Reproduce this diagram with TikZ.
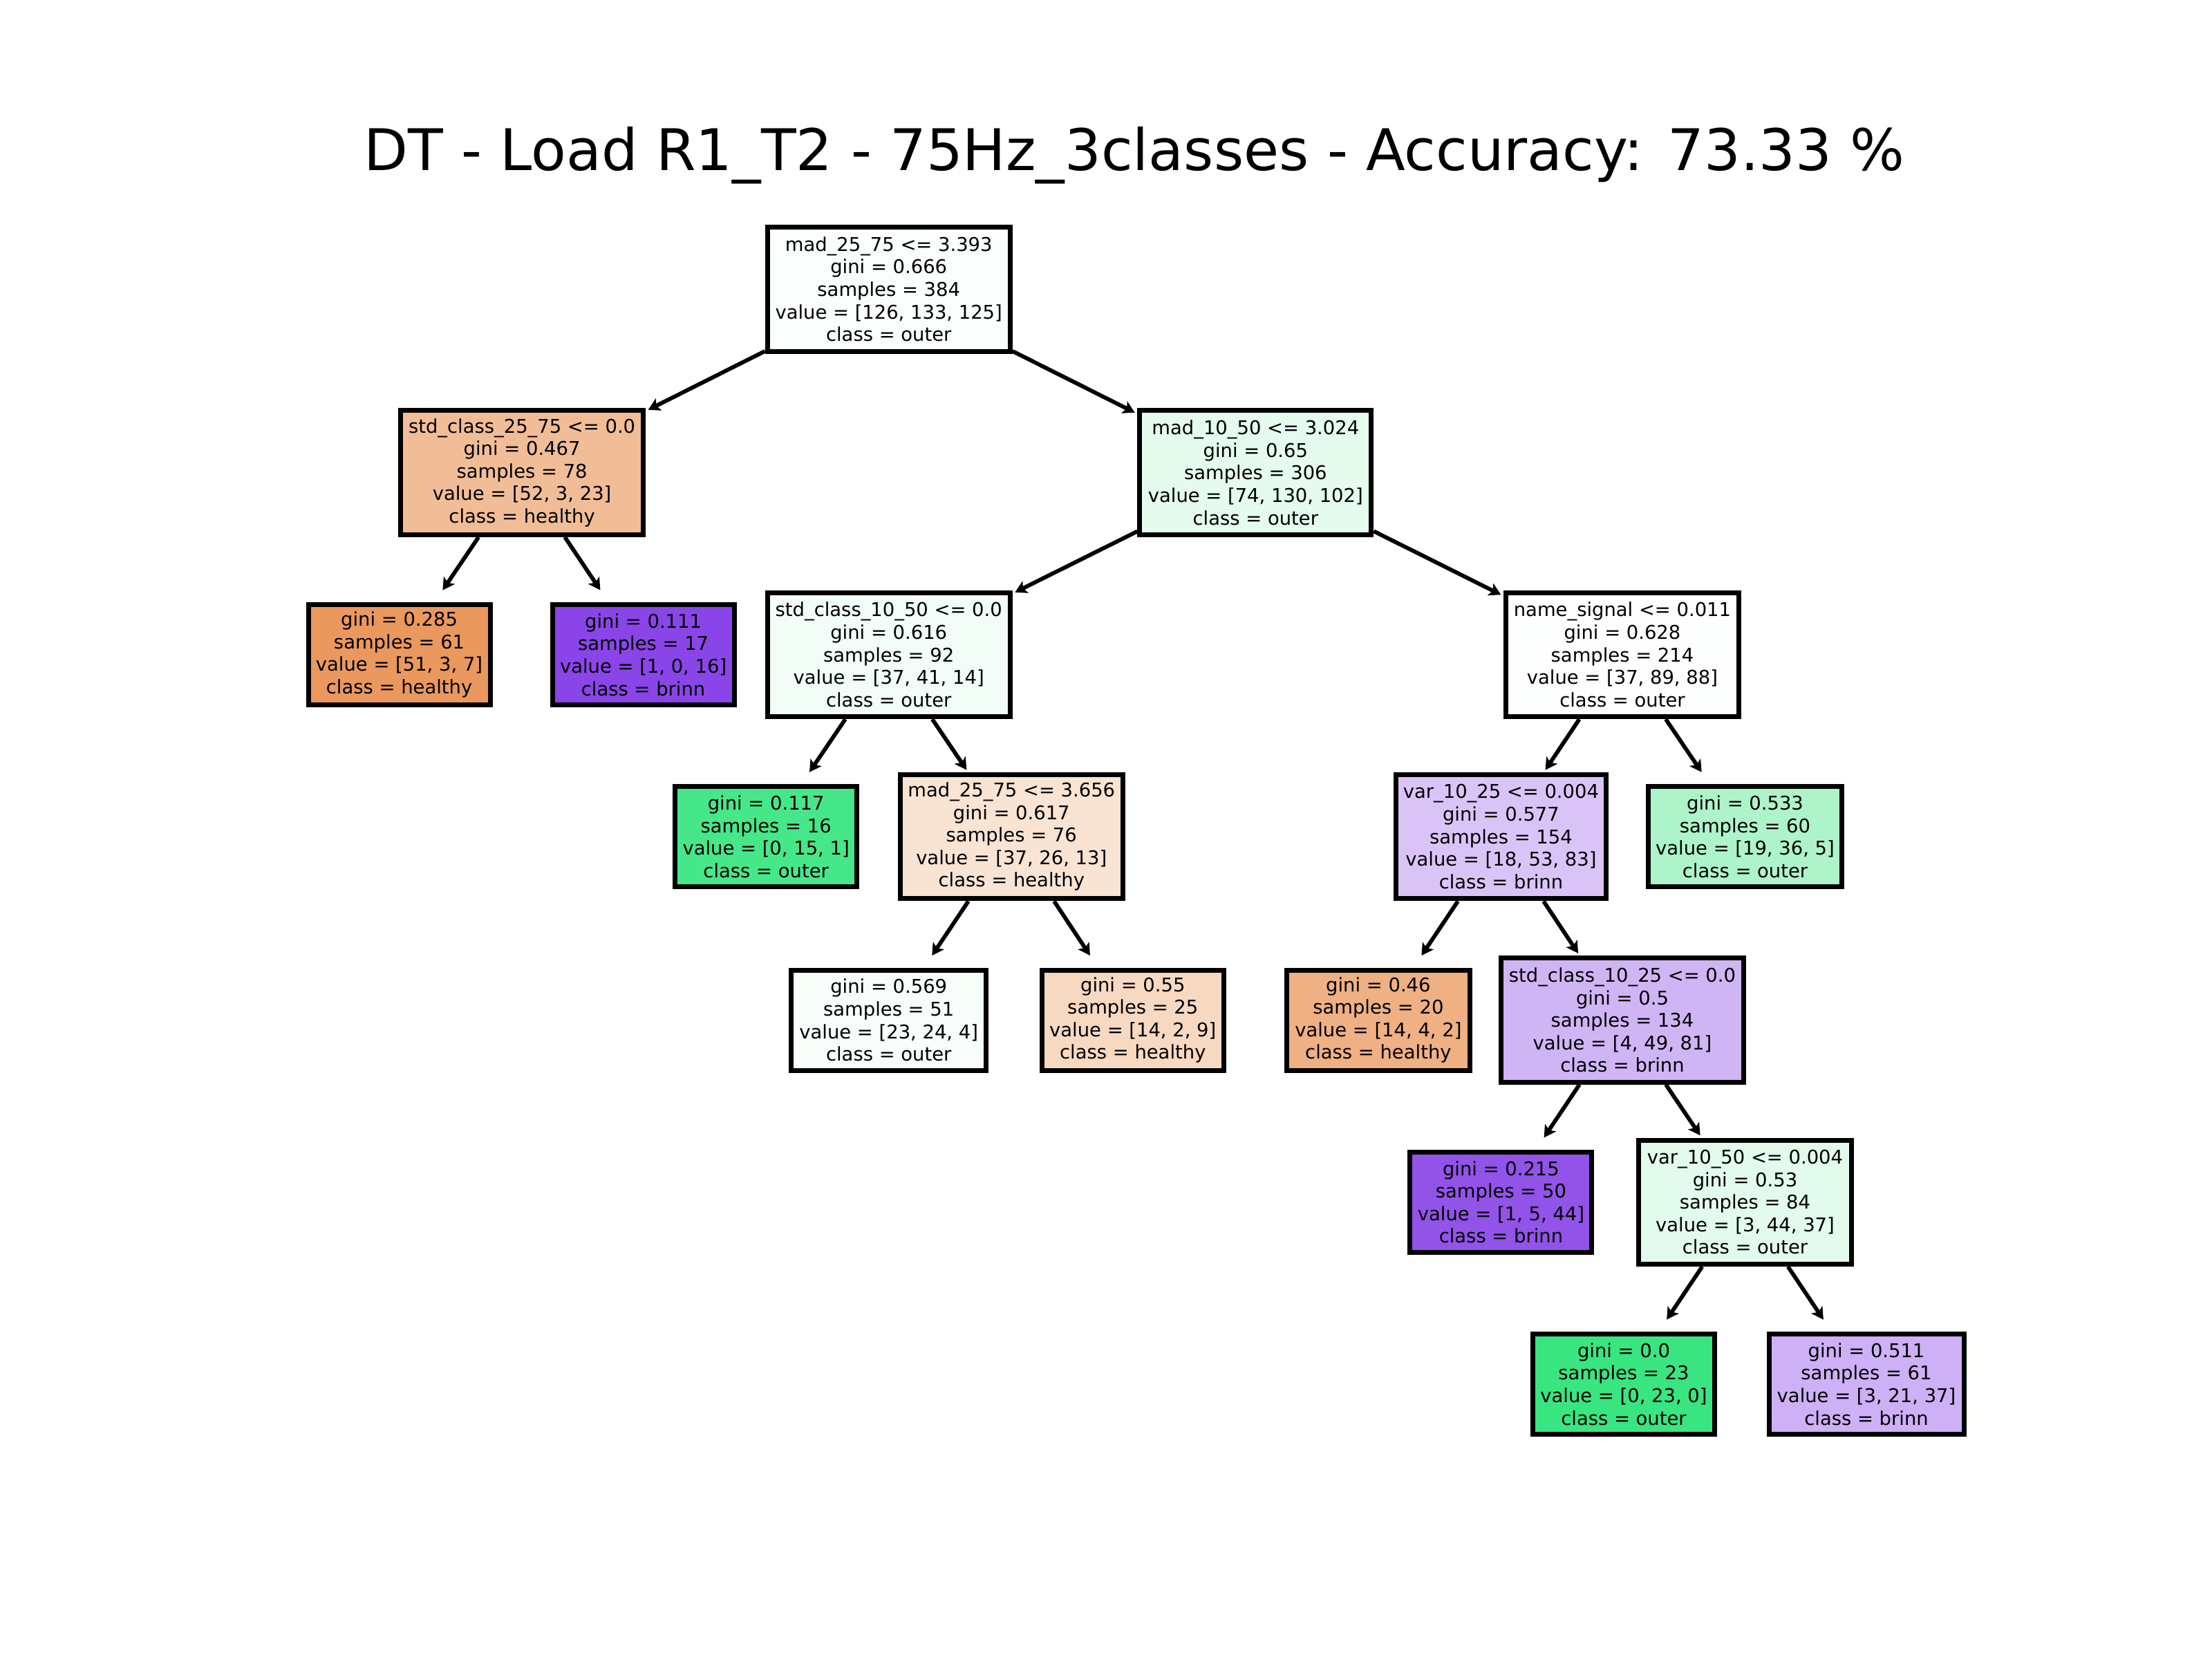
\documentclass[tikz,border=0pt]{standalone}
\usepackage{fontspec}
\setmainfont{DejaVu Sans}
\usetikzlibrary{arrows.meta}
\definecolor{f0}{RGB}{250,254,252}
\definecolor{f1}{RGB}{241,189,151}
\definecolor{f2}{RGB}{228,251,238}
\definecolor{f3}{RGB}{234,152,94}
\definecolor{f4}{RGB}{137,69,231}
\definecolor{f5}{RGB}{241,253,246}
\definecolor{f6}{RGB}{253,255,254}
\definecolor{f7}{RGB}{70,231,137}
\definecolor{f8}{RGB}{249,227,211}
\definecolor{f9}{RGB}{218,196,247}
\definecolor{f10}{RGB}{173,244,203}
\definecolor{f11}{RGB}{248,254,250}
\definecolor{f12}{RGB}{247,216,193}
\definecolor{f13}{RGB}{239,176,131}
\definecolor{f14}{RGB}{208,181,245}
\definecolor{f15}{RGB}{146,83,232}
\definecolor{f16}{RGB}{226,251,236}
\definecolor{f17}{RGB}{57,229,129}
\definecolor{f18}{RGB}{205,176,245}
\begin{document}
\begin{tikzpicture}[x=2.0408pt,y=-2.0408pt,
  box/.style={draw=black,line width=7pt,align=center,inner sep=0pt,
    font=\fontsize{27.4}{32.6}\selectfont},
  split/.style={box,minimum height=179.5pt},
  leaf/.style={box,minimum height=145pt},
  edge/.style={line width=5.8pt,-{Stealth[length=17pt,width=19pt,inset=4pt]},shorten >=4pt},
  toleaf/.style={edge,shorten >=21pt}]
\useasboundingbox (0,0) rectangle (1568,1176);
\node[anchor=base,font=\fontsize{83}{99}\selectfont] (title) at (804,121) {DT - Load R1\_T2 - 75Hz\_3classes - Accuracy: 73.33 \%};

\node[split,fill=f0,minimum width=351pt] (n0) at (630,205) {mad\_25\_75 <= 3.393\\gini = 0.666\\samples = 384\\value = [126, 133, 125]\\class = outer};
\node[split,fill=f1,minimum width=351pt] (n1) at (370,335) {std\_class\_25\_75 <= 0.0\\gini = 0.467\\samples = 78\\value = [52, 3, 23]\\class = healthy};
\node[split,fill=f2,minimum width=335pt] (n2) at (890,335) {mad\_10\_50 <= 3.024\\gini = 0.65\\samples = 306\\value = [74, 130, 102]\\class = outer};
\node[leaf,fill=f3,minimum width=263pt] (n3) at (283,464) {gini = 0.285\\samples = 61\\value = [51, 3, 7]\\class = healthy};
\node[leaf,fill=f4,minimum width=263pt] (n4) at (456,464) {gini = 0.111\\samples = 17\\value = [1, 0, 16]\\class = brinn};
\node[split,fill=f5,minimum width=351pt] (n5) at (630,464) {std\_class\_10\_50 <= 0.0\\gini = 0.616\\samples = 92\\value = [37, 41, 14]\\class = outer};
\node[split,fill=f6,minimum width=337pt] (n6) at (1150,464) {name\_signal <= 0.011\\gini = 0.628\\samples = 214\\value = [37, 89, 88]\\class = outer};
\node[leaf,fill=f7,minimum width=263pt] (n7) at (543,593) {gini = 0.117\\samples = 16\\value = [0, 15, 1]\\class = outer};
\node[split,fill=f8,minimum width=322pt] (n8) at (717,593) {mad\_25\_75 <= 3.656\\gini = 0.617\\samples = 76\\value = [37, 26, 13]\\class = healthy};
\node[split,fill=f9,minimum width=304pt] (n9) at (1064,593) {var\_10\_25 <= 0.004\\gini = 0.577\\samples = 154\\value = [18, 53, 83]\\class = brinn};
\node[leaf,fill=f10,minimum width=280pt] (n10) at (1237,593) {gini = 0.533\\samples = 60\\value = [19, 36, 5]\\class = outer};
\node[leaf,fill=f11,minimum width=282pt] (n11) at (630,723) {gini = 0.569\\samples = 51\\value = [23, 24, 4]\\class = outer};
\node[leaf,fill=f12,minimum width=263pt] (n12) at (803,723) {gini = 0.55\\samples = 25\\value = [14, 2, 9]\\class = healthy};
\node[leaf,fill=f13,minimum width=265pt] (n13) at (977,723) {gini = 0.46\\samples = 20\\value = [14, 4, 2]\\class = healthy};
\node[split,fill=f14,minimum width=351pt] (n14) at (1150,723) {std\_class\_10\_25 <= 0.0\\gini = 0.5\\samples = 134\\value = [4, 49, 81]\\class = brinn};
\node[leaf,fill=f15,minimum width=263pt] (n15) at (1064,852) {gini = 0.215\\samples = 50\\value = [1, 5, 44]\\class = brinn};
\node[split,fill=f16,minimum width=308pt] (n16) at (1237,852) {var\_10\_50 <= 0.004\\gini = 0.53\\samples = 84\\value = [3, 44, 37]\\class = outer};
\node[leaf,fill=f17,minimum width=263pt] (n17) at (1151,981) {gini = 0.0\\samples = 23\\value = [0, 23, 0]\\class = outer};
\node[leaf,fill=f18,minimum width=282pt] (n18) at (1323,981) {gini = 0.511\\samples = 61\\value = [3, 21, 37]\\class = brinn};

\draw[edge] (n0) -- (n1);
\draw[edge] (n0) -- (n2);
\draw[toleaf] (n1) -- (n3);
\draw[toleaf] (n1) -- (n4);
\draw[edge] (n2) -- (n5);
\draw[edge] (n2) -- (n6);
\draw[toleaf] (n5) -- (n7);
\draw[edge] (n5) -- (n8);
\draw[edge] (n6) -- (n9);
\draw[toleaf] (n6) -- (n10);
\draw[toleaf] (n8) -- (n11);
\draw[toleaf] (n8) -- (n12);
\draw[toleaf] (n9) -- (n13);
\draw[edge] (n9) -- (n14);
\draw[toleaf] (n14) -- (n15);
\draw[edge] (n14) -- (n16);
\draw[toleaf] (n16) -- (n17);
\draw[toleaf] (n16) -- (n18);
\end{tikzpicture}
\end{document}
